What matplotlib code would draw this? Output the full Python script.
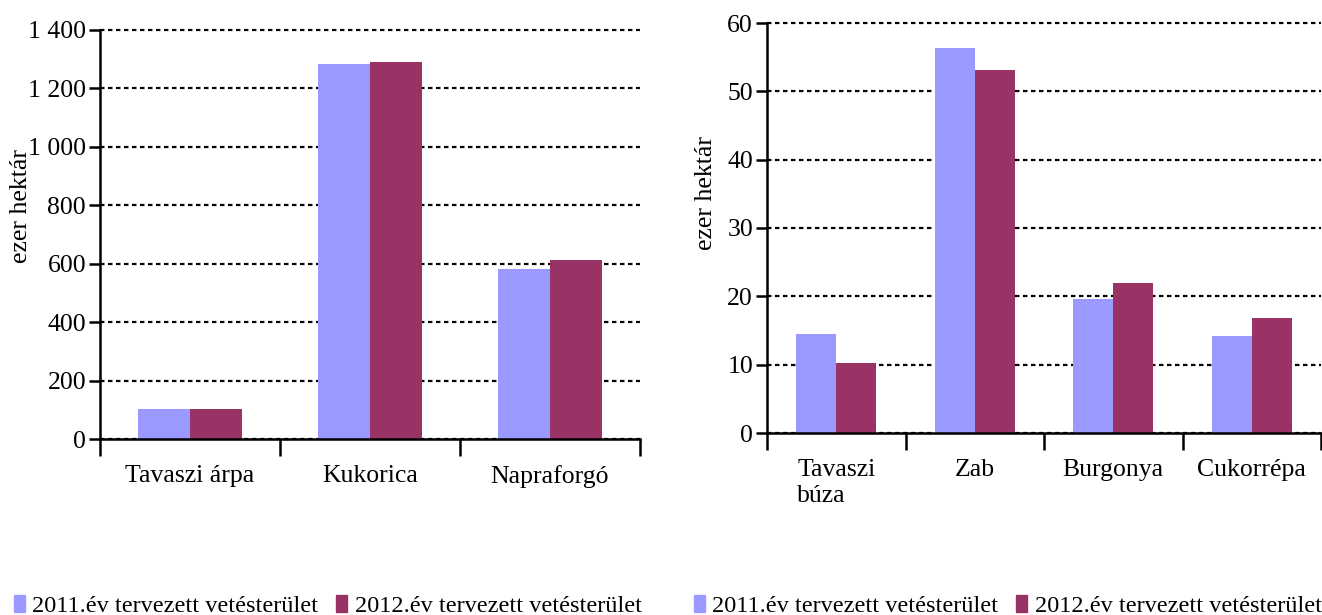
import matplotlib

matplotlib.use("Agg")
import matplotlib.pyplot as plt
from matplotlib.patches import Patch
import numpy as np

# left panel
cats_left = ["Tavaszi árpa", "Kukorica", "Napraforgó"]
left_2011 = [103, 1283, 582]
left_2012 = [103, 1290, 613]
left_ticks = [0, 200, 400, 600, 800, 1000, 1200, 1400]
left_ticklabels = ["0", "200", "400", "600", "800", "1 000", "1 200", "1 400"]

# right panel
cats_right = ["Tavaszi\nbúza", "Zab", "Burgonya", "Cukorrépa"]
right_2011 = [14.5, 56.3, 19.6, 14.2]
right_2012 = [10.2, 53.1, 22.0, 16.8]
right_ticks = [0, 10, 20, 30, 40, 50, 60]

series_names = ["2011.év tervezett vetésterület", "2012.év tervezett vetésterület"]
C2011 = "#9999FF"
C2012 = "#993366"

plt.rcParams["font.family"] = ["Liberation Serif", "DejaVu Serif"]
FS = 18.5

W, H = 1322, 615
fig = plt.figure(figsize=(W / 100, H / 100), dpi=100)


def px_axes(x0, y0, x1, y1):
    return fig.add_axes([x0 / W, 1 - y1 / H, (x1 - x0) / W, (y1 - y0) / H])


def style(ax, cats, v1, v2, ticks, labels, ymax):
    x = np.arange(len(cats))
    bw = 0.29
    ax.bar(x - bw / 2, v1, bw, color=C2011, zorder=3)
    ax.bar(x + bw / 2, v2, bw, color=C2012, zorder=3)
    ax.set_xlim(-0.5, len(cats) - 0.5)
    ax.set_ylim(0, ymax)
    ax.set_yticks(ticks)
    ax.set_yticklabels(labels, fontsize=FS)
    ax.yaxis.grid(True, color="black", linestyle=(0, (2, 1.6)), linewidth=1.6, zorder=1)
    for gl in ax.get_ygridlines():
        gl.set_clip_on(False)
    ax.set_axisbelow(True)
    for s in ["top", "right"]:
        ax.spines[s].set_visible(False)
    for s in ["left", "bottom"]:
        ax.spines[s].set_linewidth(1.8)
        ax.spines[s].set_zorder(4)
    ax.tick_params(axis="y", length=8, width=1.8, pad=2)
    # category boundaries as tick marks
    ax.set_xticks(np.arange(len(cats) + 1) - 0.5)
    ax.set_xticklabels([])
    ax.tick_params(axis="x", length=12, width=1.8)
    for i, c in enumerate(cats):
        ax.annotate(c, xy=(i, 0), xycoords=("data", "axes fraction"),
                    xytext=(0, -19), textcoords="offset points",
                    ha="center", va="top", fontsize=FS, multialignment="left")
    ax.set_ylabel("ezer hektár", fontsize=FS)


ax1 = px_axes(100, 30, 640, 439)
style(ax1, cats_left, left_2011, left_2012, left_ticks, left_ticklabels, 1400)
ax1.yaxis.set_label_coords(-0.126, 0.57)

ax2 = px_axes(767, 23, 1321, 433)
style(ax2, cats_right, right_2011, right_2012, right_ticks,
      [str(t) for t in right_ticks], 60)
ax2.yaxis.set_label_coords(-0.09, 0.585)

handles = [Patch(color=C2011), Patch(color=C2012)]
for x0 in (14, 694):
    fig.legend(handles, series_names, loc="center left",
               bbox_to_anchor=(x0 / W, 1 - 606 / H), ncol=2, frameon=False,
               fontsize=17.5, handlelength=0.45, handleheight=0.7,
               handletextpad=0.3, columnspacing=0.75, borderpad=0, borderaxespad=0)

fig.savefig("out.png", dpi=100)
